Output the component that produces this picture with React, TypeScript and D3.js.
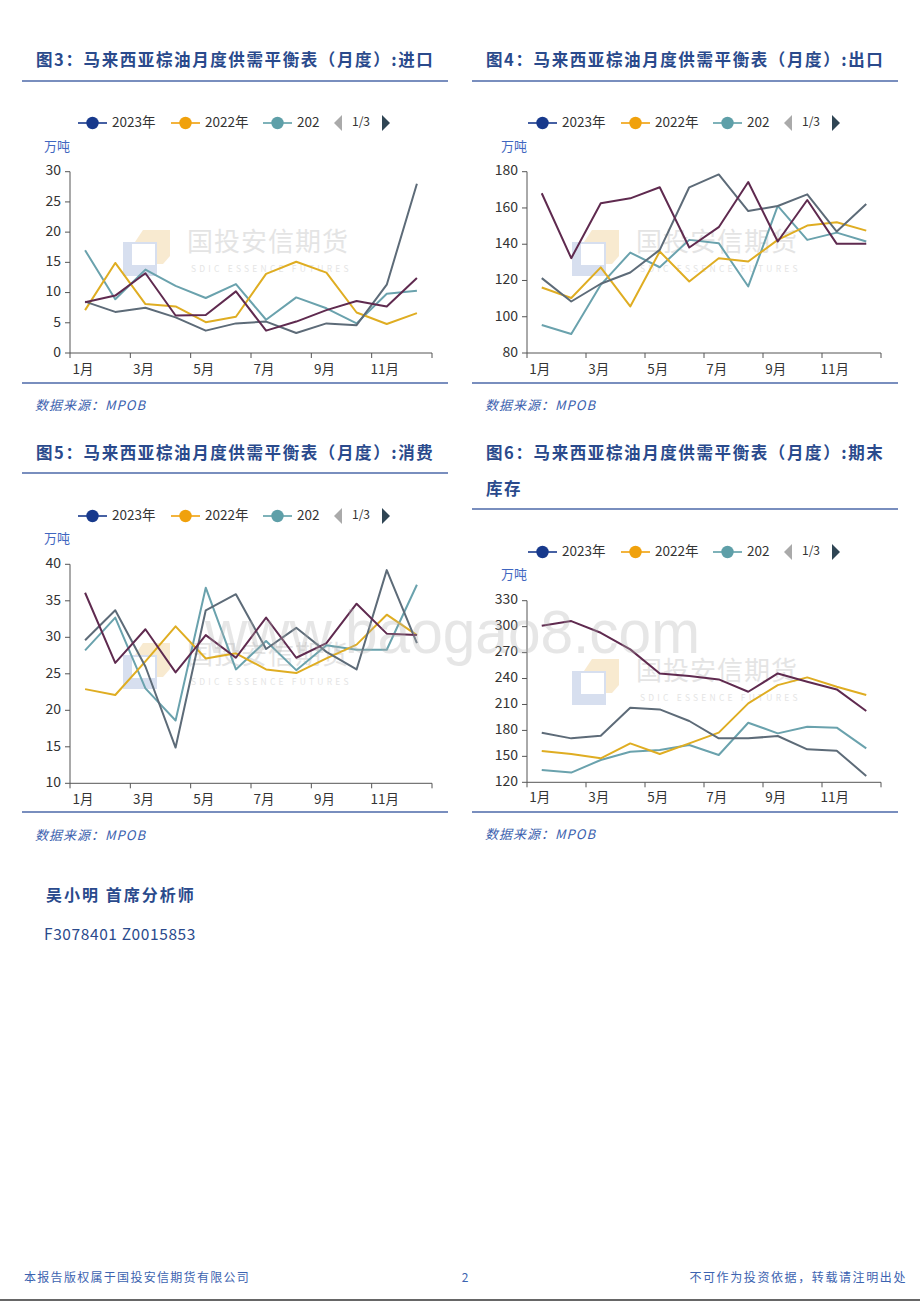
import { useMemo } from 'react';
import * as d3 from 'd3';

const W = 920;
const H = 1302;

const MONTHS = ['1月', '2月', '3月', '4月', '5月', '6月', '7月', '8月', '9月', '10月', '11月', '12月'];

// 进口
const importMaroon = [8.4, 9.5, 13.2, 6.2, 6.3, 10.2, 3.7, 5.2, 7.1, 8.6, 7.7, 12.4];
const importSlate = [8.5, 6.8, 7.5, 5.9, 3.7, 4.9, 5.2, 3.3, 4.9, 4.6, 11.3, 28.0];
const importTeal = [17.0, 8.9, 13.8, 11.1, 9.1, 11.4, 5.5, 9.2, 7.4, 4.9, 9.8, 10.3];
const importGold = [7.1, 14.9, 8.1, 7.7, 5.1, 6.0, 13.1, 15.1, 13.3, 6.7, 4.8, 6.6];

// 出口
const exportMaroon = [168.1, 132.3, 162.6, 165.3, 171.4, 138.2, 149.4, 174.3, 141.5, 164.4, 140.2, 140.2];
const exportSlate = [121.3, 108.4, 118.2, 124.4, 136.9, 171.4, 178.5, 158.3, 161.1, 167.5, 147.0, 162.2];
const exportTeal = [95.4, 90.5, 117.6, 135.4, 127.3, 142.4, 140.6, 116.7, 161.1, 142.4, 146.4, 141.5];
const exportGold = [116.1, 110.3, 127.2, 105.7, 136.0, 119.4, 132.3, 130.5, 142.4, 150.3, 152.1, 147.5];

// 消费
const consMaroon = [36.1, 26.5, 31.1, 25.2, 30.3, 27.2, 32.7, 27.2, 29.2, 34.6, 30.5, 30.3];
const consSlate = [29.6, 33.7, 26.0, 14.9, 33.7, 35.9, 28.4, 31.3, 28.0, 25.6, 39.2, 29.2];
const consTeal = [28.2, 32.7, 23.0, 18.6, 36.8, 25.6, 29.5, 25.5, 28.9, 28.3, 28.3, 37.2];
const consGold = [22.9, 22.1, 26.7, 31.5, 27.1, 27.8, 25.6, 25.1, 27.1, 29.0, 33.1, 30.3];

// 期末库存
const stockMaroon = [301, 306.4, 292.9, 273.7, 245.9, 242.8, 239, 224.7, 245.9, 236.3, 227.4, 202.4];
const stockSlate = [177.4, 170.8, 173.9, 206.3, 204.3, 190.9, 170.8, 170.8, 173.5, 158.1, 156.6, 127.3];
const stockTeal = [134.2, 131.2, 145.8, 155.4, 157.4, 163.1, 151.6, 188.9, 176.6, 184.3, 183.2, 159.3];
const stockGold = [156.2, 152.7, 147.7, 165, 152.7, 165, 177.4, 211.3, 232.4, 241.3, 230.5, 220.9];

const LEGEND_NAMES = ['2023年', '2022年', '202'];
const LEGEND_COLORS = ['#17398c', '#f0a10c', '#5e9fa8'];

const LINE_COLORS = { maroon: '#5f2a4f', slate: '#5d6b78', teal: '#6aa2ad', gold: '#dfad22' };

const TITLE_COLOR = '#2a4a8c';
const RULE_COLOR = '#4d69a8';
const FONT = '"Noto Sans CJK SC", "Noto Sans", sans-serif';

type PanelProps = {
  x0: number; // left edge of the panel block
  title: string[];
  titleY: number;
  ruleY: number;
  legendY: number;
  unitY: number;
  top: number;
  bottom: number;
  axisX: number;
  axisRight: number;
  domain: [number, number];
  step: number;
  series: { values: number[]; color: string }[];
  xLabelY: number;
  bottomRuleY: number;
  sourceY: number;
  logo: { x: number; y: number };
};

const Panel = (p: PanelProps) => {
  const xScale = useMemo(
    () => d3.scaleBand<string>().domain(MONTHS).range([p.axisX, p.axisRight]).padding(0),
    [p.axisX, p.axisRight]
  );
  const yScale = d3.scaleLinear().domain(p.domain).range([p.bottom, p.top]);
  const yTicks = d3.range(p.domain[0], p.domain[1] + 0.001, p.step);
  const bw = xScale.bandwidth();
  const line = d3
    .line<number>()
    .x((_, i) => xScale(MONTHS[i])! + bw / 2)
    .y((d) => yScale(d));

  const lx = p.x0 + 56; // legend start
  const legendItems = [
    { x: lx, name: LEGEND_NAMES[0], color: LEGEND_COLORS[0] },
    { x: lx + 93, name: LEGEND_NAMES[1], color: LEGEND_COLORS[1] },
    { x: lx + 185, name: LEGEND_NAMES[2], color: LEGEND_COLORS[2] },
  ];

  return (
    <g>
      {p.title.map((t, i) => (
        <text
          key={i}
          x={p.x0 + 14}
          y={p.titleY + i * 36}
          fontSize={16.5}
          fontWeight={700}
          fill={TITLE_COLOR}
          letterSpacing={1.6}
          dominantBaseline="middle"
        >
          {t}
        </text>
      ))}
      <line x1={p.x0} x2={p.x0 + 426} y1={p.ruleY} y2={p.ruleY} stroke={RULE_COLOR} strokeWidth={1.6} />

      {/* company watermark */}
      <g opacity={0.55}>
        <rect x={p.logo.x} y={p.logo.y + 12} width={34} height={34} fill="#b8c5e3" />
        <rect x={p.logo.x + 9} y={p.logo.y + 14} width={23} height={21} fill="#fff" />
        <path
          d={`M${p.logo.x + 20},${p.logo.y} L${p.logo.x + 47},${p.logo.y} L${p.logo.x + 47},${p.logo.y + 26} L${p.logo.x + 40},${p.logo.y + 34} L${p.logo.x + 34},${p.logo.y + 34} L${p.logo.x + 34},${p.logo.y + 12} L${p.logo.x + 12},${p.logo.y + 12} Z`}
          fill="#f3d9aa"
        />
        <text x={p.logo.x + 64} y={p.logo.y + 14} fontSize={26} fill="#cfcfcf" dominantBaseline="middle" letterSpacing={1}>
          国投安信期货
        </text>
        <text x={p.logo.x + 68} y={p.logo.y + 40} fontSize={8.5} fill="#cfcfcf" dominantBaseline="middle" letterSpacing={3.2}>
          SDIC ESSENCE FUTURES
        </text>
      </g>

      {/* legend */}
      {legendItems.map((it) => (
        <g key={it.name}>
          <line x1={it.x} x2={it.x + 29} y1={p.legendY} y2={p.legendY} stroke={it.color} strokeWidth={1.6} />
          <circle cx={it.x + 14.5} cy={p.legendY} r={6.2} fill={it.color} />
          <text x={it.x + 34} y={p.legendY} fontSize={13.5} fill="#333" dominantBaseline="middle">
            {it.name}
          </text>
        </g>
      ))}
      <path
        d={`M${lx + 264},${p.legendY - 8} L${lx + 256},${p.legendY} L${lx + 264},${p.legendY + 8} Z`}
        fill="#aaa"
      />
      <text x={lx + 274} y={p.legendY} fontSize={12} fill="#333" dominantBaseline="middle">
        1/3
      </text>
      <path
        d={`M${lx + 304},${p.legendY - 8} L${lx + 312},${p.legendY} L${lx + 304},${p.legendY + 8} Z`}
        fill="#2f4554"
      />

      <text x={p.axisX - 26} y={p.unitY} fontSize={13} fill="#3f66c0" dominantBaseline="middle">
        万吨
      </text>

      {/* y axis */}
      <line x1={p.axisX} x2={p.axisX} y1={p.top} y2={p.bottom} stroke="#555" />
      {yTicks.map((t) => (
        <g key={t}>
          <line x1={p.axisX - 5} x2={p.axisX} y1={yScale(t)} y2={yScale(t)} stroke="#555" />
          <text x={p.axisX - 9} y={yScale(t)} fontSize={14} fill="#333" textAnchor="end" dominantBaseline="middle">
            {t}
          </text>
        </g>
      ))}

      {/* x axis */}
      <line x1={p.axisX} x2={p.axisRight} y1={p.bottom} y2={p.bottom} stroke="#555" />
      {MONTHS.map((m, i) =>
        i % 2 === 0 ? (
          <g key={m}>
            <line x1={xScale(m)!} x2={xScale(m)!} y1={p.bottom} y2={p.bottom + 5} stroke="#555" />
            <text x={xScale(m)! + bw / 2 - 2} y={p.xLabelY} fontSize={13.5} fill="#333" textAnchor="middle" dominantBaseline="middle">
              {m}
            </text>
          </g>
        ) : null
      )}
      <line x1={p.axisRight} x2={p.axisRight} y1={p.bottom} y2={p.bottom + 5} stroke="#555" />

      {p.series.map((s, i) => (
        <path key={i} d={line(s.values)!} fill="none" stroke={s.color} strokeWidth={2} strokeLinejoin="round" />
      ))}

      <line x1={p.x0} x2={p.x0 + 426} y1={p.bottomRuleY} y2={p.bottomRuleY} stroke={RULE_COLOR} strokeWidth={1.6} />
      <text x={p.x0 + 13} y={p.sourceY} fontSize={13} fontStyle="italic" fill="#3b5fae" dominantBaseline="middle" letterSpacing={1}>
        数据来源：MPOB
      </text>
    </g>
  );
};

const App = () => {
  const C = LINE_COLORS;
  return (
    <svg
      width={W}
      height={H}
      style={{ position: 'absolute', left: 0, top: 0, fontFamily: FONT, background: '#fff' }}
    >
      <rect width={W} height={H} fill="#fff" />
      <Panel
        x0={22}
        title={['图3：马来西亚棕油月度供需平衡表（月度）:进口']}
        titleY={62}
        ruleY={81}
        legendY={123}
        unitY={147}
        top={171.7}
        bottom={353}
        axisX={70}
        axisRight={432}
        domain={[0, 30]}
        step={5}
        xLabelY={370}
        bottomRuleY={383}
        sourceY={406}
        logo={{ x: 123, y: 230 }}
        series={[
          { values: importTeal, color: C.teal },
          { values: importGold, color: C.gold },
          { values: importSlate, color: C.slate },
          { values: importMaroon, color: C.maroon },
        ]}
      />
      <Panel
        x0={472}
        title={['图4：马来西亚棕油月度供需平衡表（月度）:出口']}
        titleY={62}
        ruleY={81}
        legendY={123}
        unitY={147}
        top={171.7}
        bottom={353}
        axisX={527}
        axisRight={881}
        domain={[80, 180]}
        step={20}
        xLabelY={370}
        bottomRuleY={383}
        sourceY={406}
        logo={{ x: 572, y: 230 }}
        series={[
          { values: exportTeal, color: C.teal },
          { values: exportGold, color: C.gold },
          { values: exportSlate, color: C.slate },
          { values: exportMaroon, color: C.maroon },
        ]}
      />
      <Panel
        x0={22}
        title={['图5：马来西亚棕油月度供需平衡表（月度）:消费']}
        titleY={455}
        ruleY={473}
        legendY={516}
        unitY={539}
        top={564.3}
        bottom={783.3}
        axisX={70}
        axisRight={432}
        domain={[10, 40]}
        step={5}
        xLabelY={800}
        bottomRuleY={812}
        sourceY={836}
        logo={{ x: 123, y: 643 }}
        series={[
          { values: consTeal, color: C.teal },
          { values: consGold, color: C.gold },
          { values: consSlate, color: C.slate },
          { values: consMaroon, color: C.maroon },
        ]}
      />
      <Panel
        x0={472}
        title={['图6：马来西亚棕油月度供需平衡表（月度）:期末', '库存']}
        titleY={455}
        ruleY={509}
        legendY={552}
        unitY={575}
        top={600.7}
        bottom={782.3}
        axisX={527}
        axisRight={881}
        domain={[120, 330]}
        step={30}
        xLabelY={798}
        bottomRuleY={812}
        sourceY={835}
        logo={{ x: 572, y: 659 }}
        series={[
          { values: stockTeal, color: C.teal },
          { values: stockGold, color: C.gold },
          { values: stockSlate, color: C.slate },
          { values: stockMaroon, color: C.maroon },
        ]}
      />

      <text x={46} y={897} fontSize={16} fontWeight={700} fill={TITLE_COLOR} dominantBaseline="middle" letterSpacing={2}>
        吴小明 首席分析师
      </text>
      <text x={44} y={936} fontSize={15.5} fill={TITLE_COLOR} dominantBaseline="middle" letterSpacing={0.6}>
        F3078401 Z0015853
      </text>

      <text x={24} y={1279} fontSize={12} fill="#3c63b0" dominantBaseline="middle" letterSpacing={1.3}>
        本报告版权属于国投安信期货有限公司
      </text>
      <text x={465} y={1279} fontSize={12} fill="#3c63b0" textAnchor="middle" dominantBaseline="middle">
        2
      </text>
      <text x={907} y={1279} fontSize={12} fill="#3c63b0" textAnchor="end" dominantBaseline="middle" letterSpacing={1.6}>
        不可作为投资依据，转载请注明出处
      </text>
      <line x1={0} x2={W} y1={1300} y2={1300} stroke="#666" strokeWidth={2} />

      {/* site watermark */}
      <text
        x={205}
        y={653}
        fontSize={62}
        fill="#b0b0b0"
        opacity={0.3}
        textLength={495}
        lengthAdjust="spacingAndGlyphs"
        fontFamily='"Liberation Sans", Arial, sans-serif'
      >
        www.baogao8.com
      </text>
    </svg>
  );
};

export default App;
